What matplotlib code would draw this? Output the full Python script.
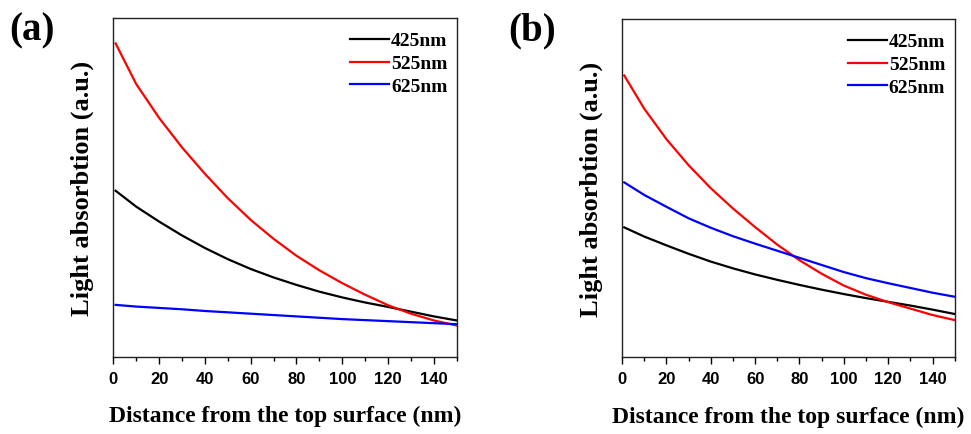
import numpy as np
import matplotlib.pyplot as plt
from matplotlib.ticker import MultipleLocator

# distance from the top surface (nm)
depth = [1, 10, 20, 30, 40, 50, 60, 70, 80, 90, 100, 110, 120, 130, 140, 150]

# panel (a), light absorption (a.u.)
a_425 = [0.490, 0.443, 0.399, 0.358, 0.321, 0.288, 0.259, 0.234, 0.212, 0.192,
         0.175, 0.160, 0.147, 0.133, 0.119, 0.107]
a_525 = [0.925, 0.805, 0.705, 0.618, 0.540, 0.468, 0.404, 0.348, 0.298, 0.255,
         0.217, 0.183, 0.152, 0.127, 0.107, 0.092]
a_625 = [0.153, 0.148, 0.144, 0.140, 0.135, 0.131, 0.127, 0.123, 0.119, 0.115,
         0.111, 0.108, 0.105, 0.102, 0.099, 0.096]

# panel (b)
b_425 = [0.384, 0.357, 0.331, 0.306, 0.283, 0.263, 0.245, 0.229, 0.214, 0.200,
         0.187, 0.175, 0.164, 0.153, 0.141, 0.128]
b_525 = [0.833, 0.735, 0.645, 0.568, 0.500, 0.440, 0.385, 0.333, 0.287, 0.247,
         0.212, 0.185, 0.163, 0.144, 0.125, 0.110]
b_625 = [0.517, 0.480, 0.445, 0.411, 0.383, 0.358, 0.336, 0.315, 0.294, 0.273,
         0.252, 0.234, 0.219, 0.205, 0.191, 0.179]

labels = ['425nm', '525nm', '625nm']
colors = ['black', 'red', 'blue']

serif = 'Liberation Serif'
sans = 'Liberation Sans'

fig = plt.figure(figsize=(9.71, 4.35), dpi=100)
ax1 = fig.add_axes([0.1167, 0.1777, 0.3537, 0.7786])
ax2 = fig.add_axes([0.6406, 0.1763, 0.3426, 0.7777])

panels = [(ax1, [a_425, a_525, a_625], '(a)', 0.010),
          (ax2, [b_425, b_525, b_625], '(b)', 0.523)]

for ax, series, tag, xtag in panels:
    for ys, lab, c in zip(series, labels, colors):
        ax.plot(depth, ys, color=c, lw=1.6, label=lab)
    ax.set_xlim(0, 150)
    ax.set_ylim(0, 1)
    ax.xaxis.set_major_locator(MultipleLocator(20))
    ax.xaxis.set_minor_locator(MultipleLocator(10))
    ax.tick_params(axis='x', which='major', direction='out', length=5, width=1, pad=5)
    ax.tick_params(axis='x', which='minor', direction='out', length=3, width=1)
    ax.tick_params(axis='y', left=False, labelleft=False)
    for t in ax.get_xticklabels():
        t.set_fontfamily(sans)
        t.set_fontweight('bold')
        t.set_fontsize(12)
    for s in ax.spines.values():
        s.set_linewidth(1.0)
        s.set_color('#222222')
    ax.set_xlabel('Distance from the top surface (nm)', fontfamily=serif,
                  fontweight='bold', fontsize=17, labelpad=14)
    ax.set_ylabel('Light absorbtion (a.u.)', fontfamily=serif,
                  fontweight='bold', fontsize=19, labelpad=14)
    ax.legend(loc='upper right', bbox_to_anchor=(0.995, 0.982), borderaxespad=0,
              frameon=False, handlelength=2.0, handletextpad=0.1,
              labelspacing=0.27,
              prop={'family': serif, 'weight': 'bold', 'size': 14})
    fig.text(xtag, 0.928, tag, fontfamily=serif, fontweight='bold',
             fontsize=28, va='center', ha='left')

fig.savefig('out.png', dpi=100)
